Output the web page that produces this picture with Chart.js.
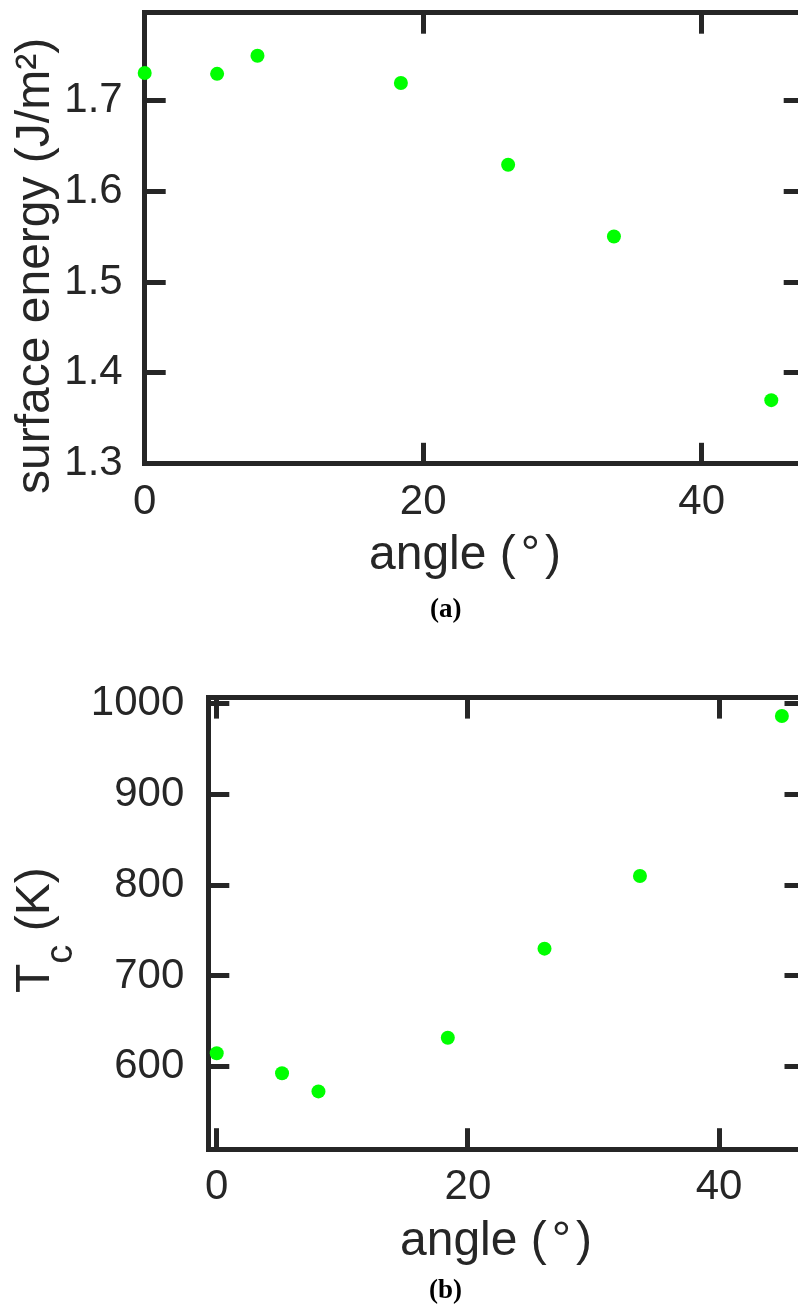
<!DOCTYPE html>
<html>
<head>
<meta charset="utf-8">
<script src="https://cdn.jsdelivr.net/npm/chart.js@4.4.1/dist/chart.umd.min.js"></script>
<style>
  html, body { margin: 0; padding: 0; background: #ffffff; overflow: hidden; width: 798px; height: 1307px; }
  #wrap { position: relative; width: 798px; height: 1307px; overflow: hidden; }
  canvas { position: absolute; left: 0; }
  .t { position: absolute; white-space: nowrap; line-height: 1; color: #262626;
       font-family: "Liberation Sans", Arial, Helvetica, sans-serif; font-size: 48px; }
  .deg { margin: 0 5px; }
  .rot { transform-origin: 0 0; transform: rotate(-90deg); }
  .cap { position: absolute; white-space: nowrap; line-height: 1; color: #000;
         font-family: "Liberation Serif", "Times New Roman", serif; font-weight: bold; font-size: 27px; }
</style>
</head>
<body>
<div id="wrap">
  <canvas id="c1" width="830" height="530" style="top:0px"></canvas>
  <canvas id="c2" width="830" height="580" style="top:640px"></canvas>
  <div class="t" style="left:369px; top:529.4px;">angle (<span class="deg">°</span>)</div>
  <div class="t rot" style="left:9.4px; top:494px;">surface energy (J/m²)</div>
  <div class="cap" style="left:430px; top:594.5px;">(a)</div>
  <div class="t" style="left:400px; top:1215.4px;">angle (<span class="deg">°</span>)</div>
  <div class="t rot" style="left:9.4px; top:993px;">T<span style="font-size:38px; position:relative; top:23px;">c</span> (K)</div>
  <div class="cap" style="left:429px; top:1275.5px;">(b)</div>
</div>
<script>
// ---- data ----
const angles = [0, 5.2, 8.1, 18.4, 26.1, 33.7, 45.0];
const surfaceEnergy = [1.730, 1.729, 1.749, 1.719, 1.629, 1.550, 1.370];
const criticalTemp = [615, 593, 573, 632, 730, 810, 986];

const xTicks = [0, 20, 40];
const xTickLabels = ['0', '20', '40'];
const yTicksA = [1.3, 1.4, 1.5, 1.6, 1.7];
const yTickLabelsA = ['1.3', '1.4', '1.5', '1.6', '1.7'];
const yTicksB = [600, 700, 800, 900, 1000];
const yTickLabelsB = ['600', '700', '800', '900', '1000'];

// ---- styling ----
const AX = '#262626';
const LW = 5;
const TL = -21;
const tickFont = { family: '"Liberation Sans", Arial, Helvetica, sans-serif', size: 42 };

function axis(opts) {
  const { position, min, max, ticks, labels, size, show, pad } = opts;
  const horiz = position === 'top' || position === 'bottom';
  return {
    type: 'linear',
    position,
    min, max,
    afterBuildTicks: (s) => { s.ticks = ticks.map(v => ({ value: v })); },
    afterFit: (s) => {
      if (horiz) s.height = size; else s.width = size;
      s.paddingTop = 0; s.paddingBottom = 0; s.paddingLeft = 0; s.paddingRight = 0;
    },
    border: { display: true, color: AX, width: LW },
    grid: { drawOnChartArea: false, drawTicks: true, tickLength: TL, color: AX, lineWidth: LW },
    ticks: {
      display: show,
      autoSkip: false,
      maxRotation: 0,
      minRotation: 0,
      padding: pad || 0,
      color: AX,
      font: tickFont,
      callback: (v, i) => labels[i]
    }
  };
}

function makeChart(id, xs, ys, cfg) {
  const pts = xs.map((x, i) => ({ x, y: ys[i] }));
  return new Chart(document.getElementById(id), {
    type: 'scatter',
    data: {
      datasets: [{
        data: pts,
        backgroundColor: '#00ff00',
        borderWidth: 0,
        pointRadius: 7,
        pointHoverRadius: 7,
        clip: false
      }]
    },
    options: {
      responsive: false,
      animation: false,
      events: [],
      layout: { padding: 0, autoPadding: false },
      plugins: { legend: { display: false }, tooltip: { enabled: false }, title: { display: false } },
      scales: {
        x: axis({ position: 'bottom', min: cfg.xmin, max: cfg.xmax, ticks: xTicks, labels: xTickLabels, size: cfg.bottom, show: true, pad: 34.5 }),
        x2: axis({ position: 'top', min: cfg.xmin, max: cfg.xmax, ticks: xTicks, labels: xTickLabels, size: cfg.top, show: false }),
        y: axis({ position: 'left', min: cfg.ymin, max: cfg.ymax, ticks: cfg.yTicks, labels: cfg.yLabels, size: cfg.left, show: true, pad: cfg.ypad }),
        y2: axis({ position: 'right', min: cfg.ymin, max: cfg.ymax, ticks: cfg.yTicks, labels: cfg.yLabels, size: cfg.right, show: false })
      }
    }
  });
}

makeChart('c1', angles, surfaceEnergy, {
  xmin: 0, xmax: 47.4, ymin: 1.3, ymax: 1.7963,
  yTicks: yTicksA, yLabels: yTickLabelsA, ypad: 43,
  left: 144.7, top: 12.7, right: 830 - 804.7, bottom: 530 - 463.8
});

makeChart('c2', angles, criticalTemp, {
  xmin: -0.67, xmax: 46.88, ymin: 509.4, ymax: 1006.2,
  yTicks: yTicksB, yLabels: yTickLabelsB, ypad: 45,
  left: 208.3, top: 57.6, right: 830 - 805.5, bottom: 580 - 509.2
});
</script>
</body>
</html>
